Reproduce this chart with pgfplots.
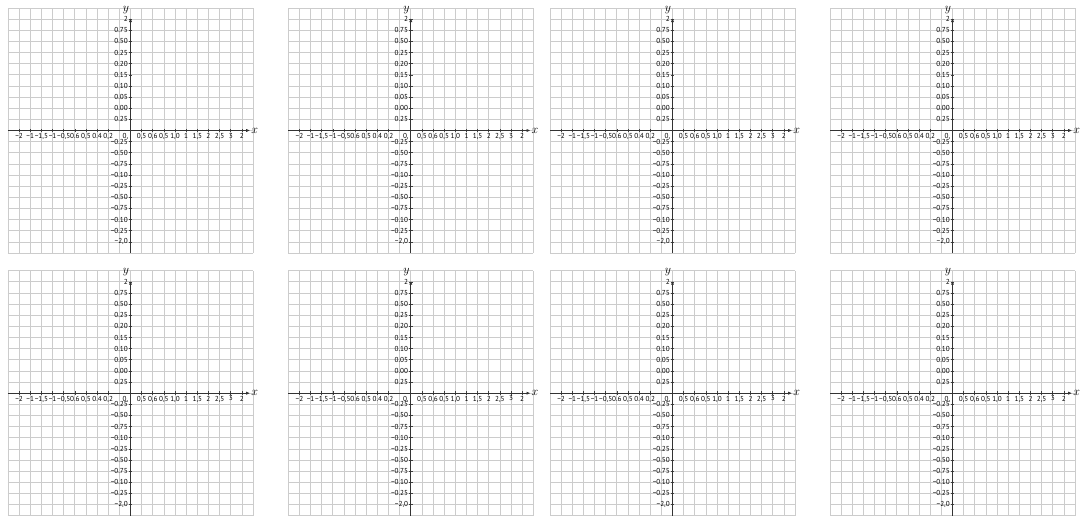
\documentclass[border=0pt]{standalone}
\usepackage{pgfplots}
\pgfplotsset{compat=1.18}
\usepackage{fontspec}
\setmainfont{PT Sans}
\newfontfamily\lblfont{PT Sans}
\usetikzlibrary{arrows.meta}

\pgfplotsset{panel/.style={
  anchor=south west, width=245pt, height=245pt, scale only axis,
  xmin=-11,xmax=11,ymin=-11,ymax=11,
  axis lines=middle, axis line style={draw=none},
  xtick={-10,-9,-8,-7,-6,-5,-4,-3,-2,1,2,3,4,5,6,7,8,9,10},
  xticklabels={{−2},{−1},{−1,5},{−1},{−0,5},{0.6},{0,5},{0.4},{0,2},
               {0,5},{0,6},{0,5},{1,0},{1},{1,5},{2},{2,5},{3},{2}},
  ytick={-10,-9,-8,-7,-6,-5,-4,-3,-2,-1,1,2,3,4,5,6,7,8,9,10},
  yticklabels={{−2,0},{−0.25},{−0.10},{−0.75},{−0.50},{−0.25},{−0.10},{−0.75},{−0.50},{−0.25},
               {0.25},{0.00},{0.05},{0.10},{0.15},{0.20},{0.25},{0.50},{0.75},{2}},
  minor xtick={-11,-10,...,11}, minor ytick={-11,-10,...,11},
  grid=both,
  major grid style={draw=gray!40, line width=0.7pt},
  minor grid style={draw=gray!40, line width=0.7pt},
  tick align=center, major tick length=3.5pt, minor tick length=0pt,
  major tick style={draw=black!75, line width=0.6pt},
  minor tick style={draw=none},
  xticklabel style={font=\lblfont\fontsize{7.2}{8}\selectfont, inner sep=0.8pt, text=black},
  yticklabel style={font=\lblfont\fontsize{7.2}{8}\selectfont, inner sep=0.8pt, text=black},
  clip=false,
}}

\newcommand\panel[2]{%
\begin{axis}[panel, at={(#1pt,#2pt)}]
  \draw[black!80, line width=0.9pt, -{Latex[length=4pt,width=3.2pt]}] (axis cs:-11,0) -- (axis cs:10.75,0);
  \draw[black!80, line width=0.9pt, -{Latex[length=4pt,width=3.2pt]}] (axis cs:0,-11) -- (axis cs:0,10.1);
  \node[anchor=west, inner sep=1pt, font=\fontsize{13}{13}\selectfont] at (axis cs:10.75,0) {$x$};
  \node[anchor=base, inner sep=0pt, font=\fontsize{13}{13}\selectfont] at (axis cs:-0.4,10.72) {$y$};
  \node[anchor=north, inner sep=0.8pt, font=\lblfont\fontsize{7.2}{8}\selectfont, text=black] at (axis cs:-0.45,-0.2) {0,};
\end{axis}}

\begin{document}
\begin{tikzpicture}
\path[use as bounding box] (0pt,0pt) rectangle (1084pt,524pt);
\panel{8}{271}
\panel{288.3}{271}
\panel{550}{271}
\panel{830}{271}
\panel{8}{8.3}
\panel{288.3}{8.3}
\panel{550}{8.3}
\panel{830}{8.3}
\end{tikzpicture}
\end{document}
